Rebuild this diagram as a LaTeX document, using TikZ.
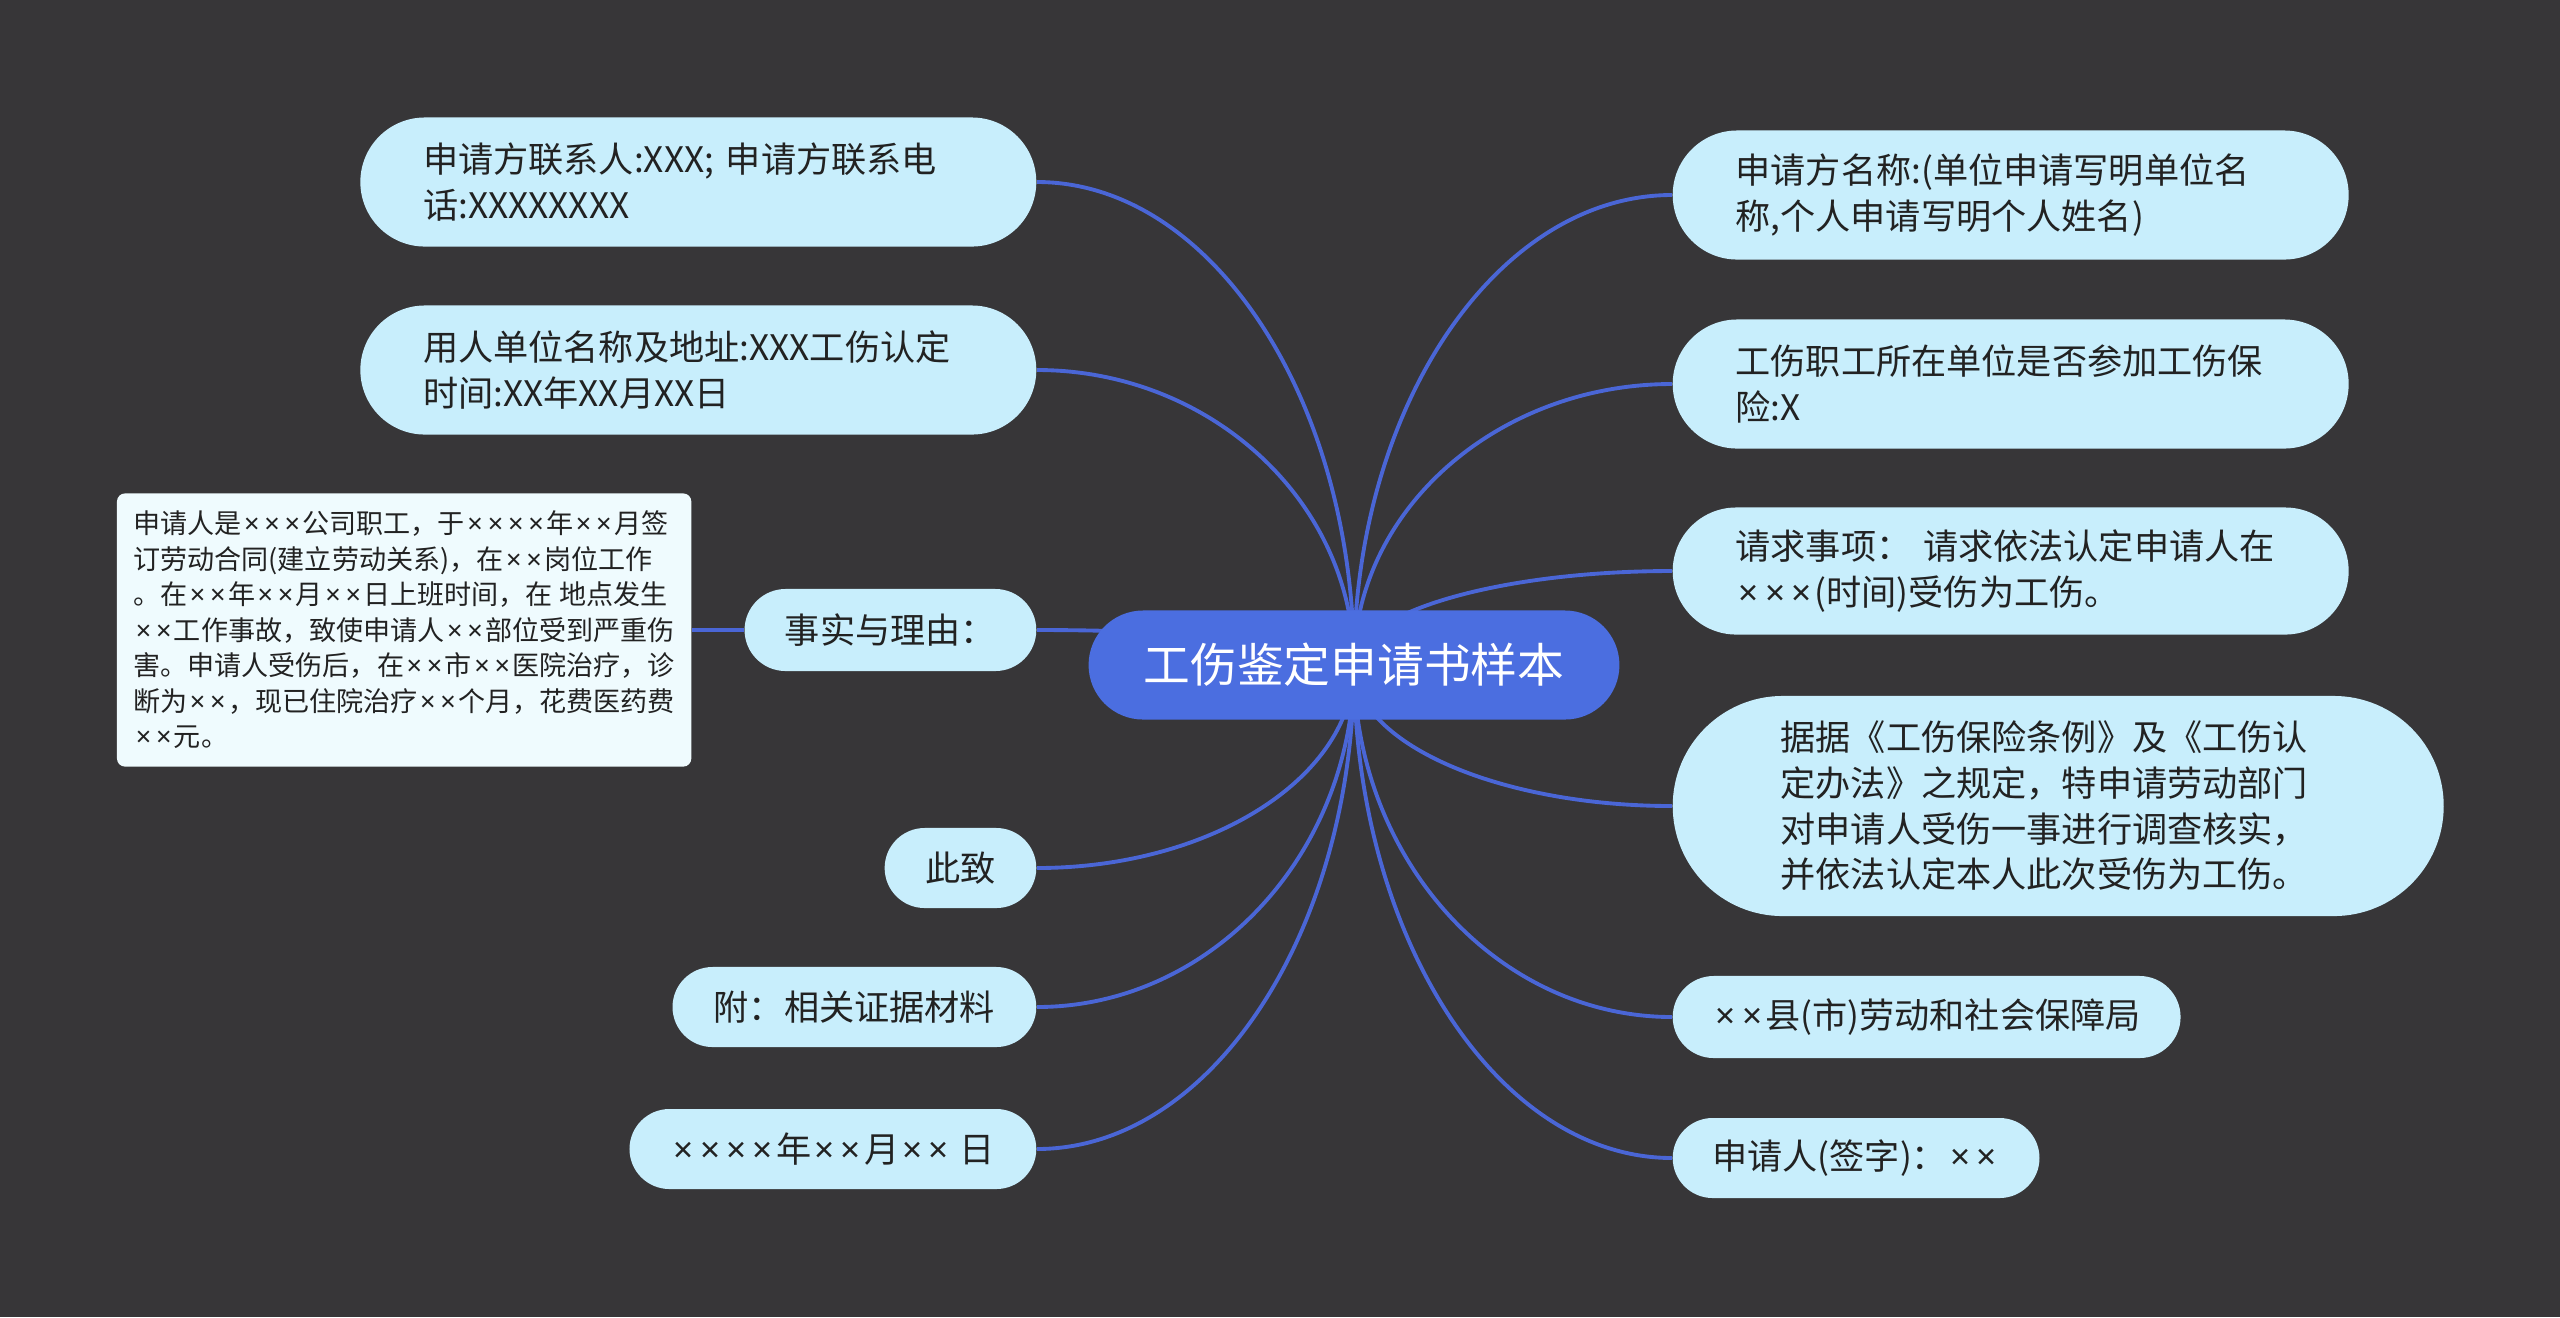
\documentclass[tikz,border=0pt]{standalone}
\usepackage{fontspec}
\newfontfamily\cjk{Noto Sans CJK SC}
\newfontfamily\latinfont{Noto Sans}
\usetikzlibrary{positioning,shapes.misc,calc}
\definecolor{bgdark}{HTML}{373638}
\definecolor{hubblue}{HTML}{4B6EE0}
\definecolor{linkblue}{HTML}{4A66D6}
\definecolor{leafcyan}{HTML}{C8EEFC}
\definecolor{notecyan}{HTML}{EFFBFE}
\definecolor{inkgray}{HTML}{222222}
\newcommand\tms{\leavevmode\hbox to 0.75em{\hss{\latinfont ×}\hss}}
\pgfdeclarelayer{bg}
\pgfdeclarelayer{links}
\pgfsetlayers{bg,links,main}
\tikzset{
  hub/.style={rounded rectangle, fill=hubblue, text=white, font=\cjk\fontsize{13.3}{16}\selectfont, minimum width=5.54cm, minimum height=1.09cm},
  leaf/.style={rounded rectangle, fill=leafcyan, text=inkgray, font=\cjk\fontsize{10}{13}\selectfont, align=left, minimum height=0.8cm},
  note/.style={rectangle, rounded corners=0.08cm, fill=notecyan, text=inkgray, font=\cjk\fontsize{7.7}{10.1}\selectfont, align=left, minimum width=5.74cm, minimum height=2.73cm},
  branch/.style={draw=linkblue, line width=1.1pt},
}
\begin{document}
\begin{tikzpicture}[x=0.01cm, y=-0.01cm]
\begin{pgfonlayer}{bg}
\fill[bgdark] (0,0) rectangle (2560,1317);
\end{pgfonlayer}
\useasboundingbox (0,0) rectangle (2560,1317);

\node (root) [hub] at (1354,665) {工伤鉴定申请书样本};

% left side
\node (contact) [leaf, anchor=east, text width=5.5cm, minimum width=6.99cm, minimum height=1.29cm] at (1037,182) {申请方联系人:XXX; 申请方联系电\\话:XXXXXXXX};
\node (employer) [leaf, anchor=east, text width=5.5cm, minimum width=6.99cm, minimum height=1.29cm] at (1037,370) {用人单位名称及地址:XXX工伤认定\\时间:XX年XX月XX日};
\node (reason) [leaf, anchor=east, minimum width=3.15cm, minimum height=0.82cm] at (1037,630) {事实与理由：};
\node (facts) [note, left of=reason, node distance=4.86cm] {申请人是\tms\tms\tms 公司职工，于\tms\tms\tms\tms 年\tms\tms 月签\\订劳动合同(建立劳动关系)，在\tms\tms 岗位工作\\。在\tms\tms 年\tms\tms 月\tms\tms 日上班时间，在 地点发生\\\tms\tms 工作事故，致使申请人\tms\tms 部位受到严重伤\\害。申请人受伤后，在\tms\tms 市\tms\tms 医院治疗，诊\\断为\tms\tms，现已住院治疗\tms\tms 个月，花费医药费\\\tms\tms 元。};
\node (regards) [leaf, anchor=east, minimum width=1.75cm] at (1037,868) {此致};
\node (annex) [leaf, anchor=east, minimum width=3.87cm] at (1037,1007) {附：相关证据材料};
\node (date) [leaf, anchor=east, minimum width=4.3cm] at (1037,1149) {\tms\tms\tms\tms 年\tms\tms 月\tms\tms\ 日};

% right side
\node (applicant) [leaf, anchor=west, text width=5.5cm, minimum width=6.99cm, minimum height=1.29cm] at (1672,195) {申请方名称:(单位申请写明单位名\\称,个人申请写明个人姓名)};
\node (insured) [leaf, anchor=west, text width=5.5cm, minimum width=6.99cm, minimum height=1.29cm] at (1672,384) {工伤职工所在单位是否参加工伤保\\险:X};
\node (request) [leaf, anchor=west, text width=5.5cm, minimum width=6.99cm, minimum height=1.27cm] at (1672,571) {请求事项：\ 请求依法认定申请人在\\\tms\tms\tms(时间)受伤为工伤。};
\node (basis) [leaf, anchor=west, text width=5.55cm, minimum width=7.94cm, minimum height=2.2cm] at (1672,806) {据据《工伤保险条例》及《工伤认\\定办法》之规定，特申请劳动部门\\对申请人受伤一事进行调查核实，\\并依法认定本人此次受伤为工伤。};
\node (bureau) [leaf, anchor=west, minimum width=5.31cm, minimum height=0.82cm] at (1672,1017) {\tms\tms 县(市)劳动和社会保障局};
\node (signer) [leaf, anchor=west, minimum width=3.9cm] at (1672,1158) {申请人(签字)：\tms\tms};

\begin{pgfonlayer}{links}
\foreach \kid in {contact,employer,reason,regards,annex,date}
  \draw[branch] let \p1=(root.center), \p2=(\kid.east) in (\p1) .. controls (\x1,{\y1+0.55*(\y2-\y1)}) and ({\x2+0.55*(\x1-\x2)},\y2) .. (\p2);
\foreach \kid in {applicant,insured,request,basis,bureau,signer}
  \draw[branch] let \p1=(root.center), \p2=(\kid.west) in (\p1) .. controls (\x1,{\y1+0.55*(\y2-\y1)}) and ({\x2+0.55*(\x1-\x2)},\y2) .. (\p2);
\draw[branch] (reason.west) -- (facts.east);
\end{pgfonlayer}
\end{tikzpicture}
\end{document}
